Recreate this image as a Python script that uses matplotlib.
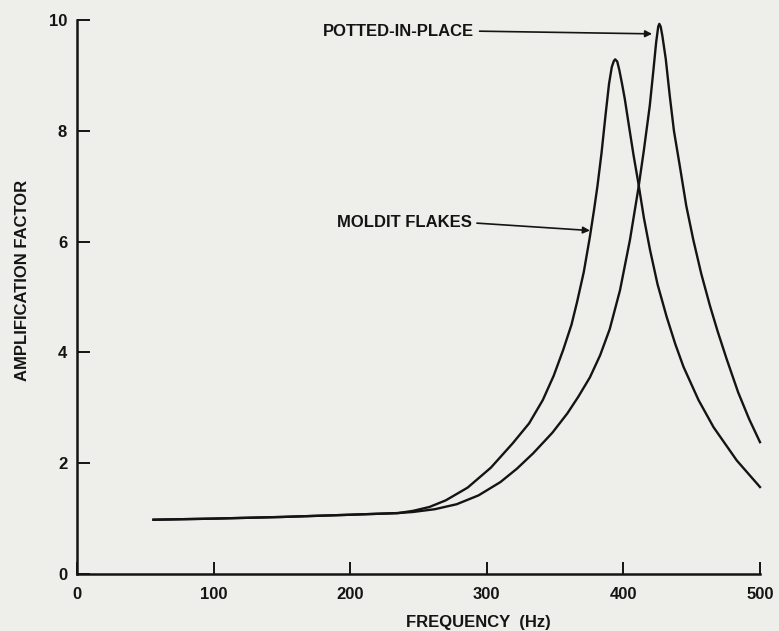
import numpy as np
import matplotlib
matplotlib.use("Agg")
import matplotlib.pyplot as plt

# values
moldit_freq = [56, 100, 150, 200, 235, 246, 258, 270, 286, 303, 319, 331, 341,
               349, 356, 362, 366, 371, 375.5, 378.5, 381, 384, 387, 389.5,
               391.5, 393, 394, 395.5, 397, 399, 401, 404, 407.5, 411, 415,
               419.5, 425, 431.7, 438, 444, 455, 466, 483, 500]
moldit_amp = [0.98, 1.00, 1.03, 1.07, 1.10, 1.14, 1.21, 1.33, 1.56, 1.92,
              2.36, 2.72, 3.14, 3.58, 4.05, 4.5, 4.9, 5.45, 6.09, 6.57, 7.0,
              7.6, 8.3, 8.85, 9.15, 9.26, 9.29, 9.25, 9.1, 8.85, 8.58, 8.1,
              7.55, 7.05, 6.43, 5.85, 5.23, 4.64, 4.15, 3.74, 3.14, 2.65, 2.05,
              1.57]

potted_freq = [56, 100, 150, 200, 235, 246, 262, 278, 294, 310, 322, 334, 348,
               359, 367, 375.5, 383, 390, 397.5, 404.8, 410.9, 415, 419.3, 422,
               424, 425.5, 426.3, 427.3, 428.5, 431, 434, 437, 441.4, 446,
               451.2, 457, 463.4, 469, 475.6, 484, 492, 500]
potted_amp = [0.98, 1.00, 1.03, 1.07, 1.10, 1.12, 1.17, 1.26, 1.42, 1.66, 1.90,
              2.18, 2.55, 2.9, 3.2, 3.55, 3.95, 4.42, 5.12, 6.03, 6.95, 7.65,
              8.45, 9.1, 9.6, 9.88, 9.93, 9.88, 9.72, 9.3, 8.62, 8.0, 7.35,
              6.65, 6.03, 5.42, 4.84, 4.38, 3.88, 3.28, 2.80, 2.38]

xticks = [0, 100, 200, 300, 400, 500]
yticks = [0, 2, 4, 6, 8, 10]

ink = "#141414"
paper = "#eeeeeb"

plt.rcParams['font.family'] = ['Liberation Sans', 'DejaVu Sans']
plt.rcParams['font.weight'] = 'bold'
plt.rcParams['font.size'] = 12

fig = plt.figure(figsize=(7.79, 6.31), dpi=100, facecolor=paper)
ax = fig.add_axes([0.0988, 0.0903, 0.8768, 0.878])
ax.set_facecolor(paper)

ax.plot(moldit_freq, moldit_amp, color=ink, lw=1.7, clip_on=False,
        solid_joinstyle='round')
ax.plot(potted_freq, potted_amp, color=ink, lw=1.7, clip_on=False,
        solid_joinstyle='round')

ax.set_xlim(0, 500)
ax.set_ylim(0, 10)
ax.set_xticks(xticks)
ax.set_yticks(yticks)
ax.set_xticklabels([str(t) for t in xticks], fontweight='bold', color=ink)
ax.set_yticklabels([str(t) for t in yticks], fontweight='bold', color=ink)
ax.tick_params(axis='x', direction='in', length=9, width=1.4, pad=9, colors=ink)
ax.tick_params(axis='y', direction='in', length=9, width=1.4, pad=7, colors=ink)

for side in ['top', 'right']:
    ax.spines[side].set_visible(False)
for side in ['left', 'bottom']:
    ax.spines[side].set_linewidth(1.8)
    ax.spines[side].set_color(ink)

fig.text(23 / 779, 1 - 280 / 631, "AMPLIFICATION FACTOR", rotation=90,
         ha='center', va='center', fontweight='bold', color=ink)
fig.text(478 / 779, 1 - 623 / 631, "FREQUENCY  (Hz)", ha='center',
         va='center', fontweight='bold', color=ink)

arrow = dict(arrowstyle='-|>', color=ink, lw=1.2, mutation_scale=10,
             shrinkA=2, shrinkB=0, relpos=(1, 0.5))
ax.annotate("POTTED-IN-PLACE", xy=(421, 9.75), xytext=(180, 9.8),
            ha='left', va='center', fontweight='bold', color=ink,
            arrowprops=arrow)
ax.annotate("MOLDIT FLAKES", xy=(375.5, 6.2), xytext=(190, 6.34),
            ha='left', va='center', fontweight='bold', color=ink,
            arrowprops=arrow)

fig.savefig("out.png", dpi=100, facecolor=paper)
